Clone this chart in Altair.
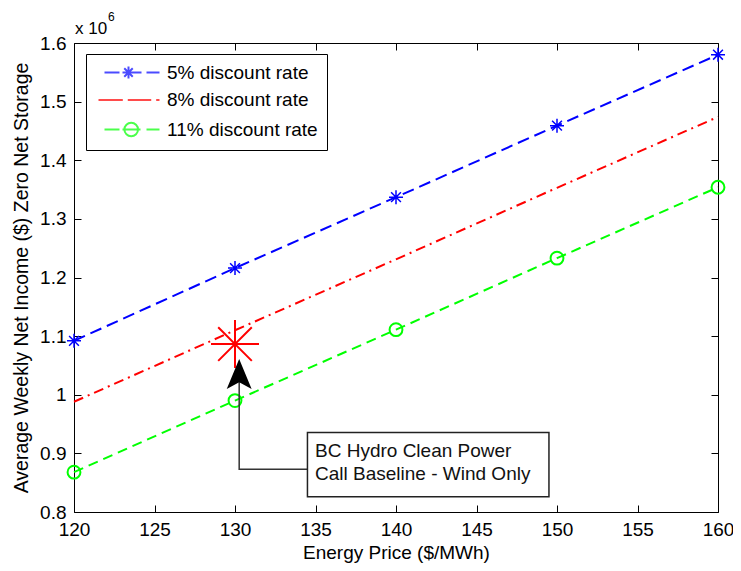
import altair as alt
import pandas as pd

# ---------------- data (income values in units of 10^6 $) ----------------
prices = [120, 130, 140, 150, 160]
series = ["5% discount rate", "8% discount rate", "11% discount rate"]
income_5 = [1.092, 1.216, 1.337, 1.459, 1.580]
income_8 = [0.988, 1.110, 1.231, 1.353, 1.474]
income_11 = [0.868, 0.990, 1.111, 1.233, 1.354]
colors = ["#0000ff", "#ff0000", "#00ff00"]
dashes = [[12, 6], [10, 5, 2, 5], [10, 6]]

x_ticks = [120, 125, 130, 135, 140, 145, 150, 155, 160]
y_ticks = [0.8, 0.9, 1.0, 1.1, 1.2, 1.3, 1.4, 1.5, 1.6]

# baseline marker
baseline_price = [130]
baseline_income = [1.0865]

# annotation (data units)
arrow_path_x = [134.5, 130.26, 130.26]
arrow_path_y = [0.873, 0.873, 1.03]
arrow_head_x = [130.26]
arrow_head_y = [1.0356]
box_x = [134.5]
box_x2 = [149.5]
box_y = [0.9354]
box_y2 = [0.826]
note_lines = ["BC Hydro Clean Power", "Call Baseline - Wind Only"]
note_x = [134.97, 134.97]
note_y = [0.894, 0.8544]

FONT = "Liberation Sans, Arial, Helvetica, sans-serif"
W, H = 644, 469

rows = []
for s, vals in zip(series, [income_5, income_8, income_11]):
    for p, v in zip(prices, vals):
        rows.append({"price": p, "income": v, "series": s})
df = pd.DataFrame(rows)
df_s = [df[df.series == s] for s in series]

xs = alt.Scale(domain=[120, 160], nice=False, zero=False)
ys = alt.Scale(domain=[0.8, 1.6], nice=False, zero=False)
cscale = alt.Scale(domain=series, range=colors)

ASTER = "M-1,0L1,0M0,-1L0,1M-0.7,-0.7L0.7,0.7M-0.7,0.7L0.7,-0.7"
ARROW = "M0,-1L0.83,1L0,0.55L-0.83,1Z"

# legend samples (units of 8 px, centred on the legend symbol slot)
LEG_BLUE = ("M0,0L1.875,0M2.25,0L4.625,0M5.25,0L6.875,0"
            "M2.25,0L3.75,0M3,-0.75L3,0.75M2.47,-0.53L3.53,0.53M2.47,0.53L3.53,-0.53")
LEG_RED = "M-0.75,0L2.29,0M2.91,0L5.84,0M6.46,0L6.875,0"
LEG_GREEN = ("M0,0L1.875,0M2.25,0L4.5,0M5.25,0L6.875,0"
             "M4.19,0A0.85,0.85,0,1,1,2.49,0A0.85,0.85,0,1,1,4.19,0")

tick_common = dict(labels=False, domain=False, ticks=True, tickSize=7,
                   tickColor="black", tickWidth=1, grid=False, title=None)

x_label_axis = alt.Axis(orient="bottom", values=x_ticks, ticks=False, domain=False, grid=False,
                        labelPadding=8, labelFont=FONT, labelFontSize=19, labelColor="black",
                        labelFlush=False, labelOverlap=False,
                        title="Energy Price ($/MWh)", titleFont=FONT, titleFontSize=19,
                        titleFontWeight="normal", titleColor="black",
                        titleBaseline="middle", titleY=40)
y_label_axis = alt.Axis(orient="left", values=y_ticks, format="~g", ticks=False, domain=False,
                        grid=False, labelPadding=8, labelFont=FONT, labelFontSize=19,
                        labelColor="black", labelFlush=False, labelOverlap=False,
                        title="Average Weekly Net Income ($) Zero Net Storage",
                        titleFont=FONT, titleFontSize=19.5, titleFontWeight="normal",
                        titleColor="black", titleBaseline="middle", titleX=-53)

def line_layer(i, xaxis=None, yaxis=None):
    return alt.Chart(df_s[i]).mark_line(strokeWidth=2, color=colors[i], strokeDash=dashes[i]).encode(
        x=alt.X("price:Q", scale=xs, axis=xaxis),
        y=alt.Y("income:Q", scale=ys, axis=yaxis),
    )

line_blue = line_layer(0, x_label_axis, y_label_axis)
line_red = line_layer(1)
line_green = line_layer(2)

blue_pts = alt.Chart(df_s[0]).mark_point(shape=ASTER, filled=False, size=196,
                                         strokeWidth=1.5, color=colors[0], opacity=1).encode(
    x=alt.X("price:Q", scale=xs, axis=alt.Axis(orient="top", offset=-H, values=x_ticks, **tick_common)),
    y=alt.Y("income:Q", scale=ys, axis=alt.Axis(orient="right", offset=-W, values=y_ticks, **tick_common)),
)

green_pts = alt.Chart(df_s[2]).mark_point(shape="circle", filled=False, size=165,
                                          strokeWidth=2, color=colors[2], opacity=1).encode(
    x=alt.X("price:Q", scale=xs, axis=alt.Axis(orient="bottom", offset=-H, values=x_ticks, **tick_common)),
    y=alt.Y("income:Q", scale=ys, axis=alt.Axis(orient="left", offset=-W, values=y_ticks, **tick_common)),
)

star = alt.Chart(pd.DataFrame({"price": baseline_price, "income": baseline_income})).mark_point(
    shape=ASTER, filled=False, size=2304, strokeWidth=2, color="#ff0000", opacity=1).encode(
    x=alt.X("price:Q", scale=xs, axis=None),
    y=alt.Y("income:Q", scale=ys, axis=None),
)

arrow_df = pd.DataFrame({"x": arrow_path_x, "y": arrow_path_y, "o": [0, 1, 2]})
arrow_line = alt.Chart(arrow_df).mark_line(color="#333333", strokeWidth=1.5).encode(
    x=alt.X("x:Q", scale=xs, axis=None),
    y=alt.Y("y:Q", scale=ys, axis=None),
    order="o:O",
)

arrow_head = alt.Chart(pd.DataFrame({"x": arrow_head_x, "y": arrow_head_y})).mark_point(
    shape=ARROW, filled=True, size=900, color="black", opacity=1, strokeWidth=0).encode(
    x=alt.X("x:Q", scale=xs, axis=None),
    y=alt.Y("y:Q", scale=ys, axis=None),
)

box = alt.Chart(pd.DataFrame({"x": box_x, "x2": box_x2, "y": box_y, "y2": box_y2})).mark_rect(
    fill="white", stroke="#222222", strokeWidth=1.5).encode(
    x=alt.X("x:Q", scale=xs, axis=None), x2="x2:Q",
    y=alt.Y("y:Q", scale=ys, axis=None), y2="y2:Q",
)

note = alt.Chart(pd.DataFrame({"x": note_x, "y": note_y, "t": note_lines})).mark_text(
    align="left", baseline="alphabetic", font=FONT, fontSize=19, color="#111111").encode(
    x=alt.X("x:Q", scale=xs, axis=None),
    y=alt.Y("y:Q", scale=ys, axis=None),
    text="t:N",
)

exp_base = alt.Chart(pd.DataFrame({"t": ["x 10"]})).mark_text(
    align="left", baseline="alphabetic", font=FONT, fontSize=17, color="black").encode(
    x=alt.value(1), y=alt.value(-9), text="t:N")
exp_sup = alt.Chart(pd.DataFrame({"t": ["6"]})).mark_text(
    align="left", baseline="alphabetic", font=FONT, fontSize=12, color="black").encode(
    x=alt.value(34), y=alt.value(-22), text="t:N")

LEG = alt.Legend(orient="none", legendX=12, legendY=11, direction="vertical",
                 strokeColor="black", fillColor="white", padding=9,
                 symbolSize=256, symbolStrokeWidth=2, symbolOffset=0,
                 labelFont=FONT, labelFontSize=19, labelColor="black",
                 labelOffset=53, labelLimit=400, rowPadding=7.5, title=None)

legend_layer = alt.Chart(df).transform_filter("false").mark_point(filled=False, strokeWidth=2).encode(
    x=alt.X("price:Q", scale=xs, axis=None),
    y=alt.Y("income:Q", scale=ys, axis=None),
    color=alt.Color("series:N", scale=cscale, legend=LEG),
    shape=alt.Shape("series:N", scale=alt.Scale(domain=series, range=[LEG_BLUE, LEG_RED, LEG_GREEN]),
                    legend=LEG),
)

chart = alt.layer(
    line_blue, line_red, line_green, blue_pts, green_pts, star, arrow_line, arrow_head, box, note,
    exp_base, exp_sup, legend_layer
).resolve_axis(x="independent", y="independent").properties(
    width=W, height=H,
    autosize=alt.AutoSizeParams(type="none"),
    padding={"left": 66, "top": 35, "right": 15, "bottom": 51},
    background="white",
).configure_view(stroke="black", strokeWidth=1)

chart.save("out.html", embed_options={"renderer": "svg", "actions": False})
